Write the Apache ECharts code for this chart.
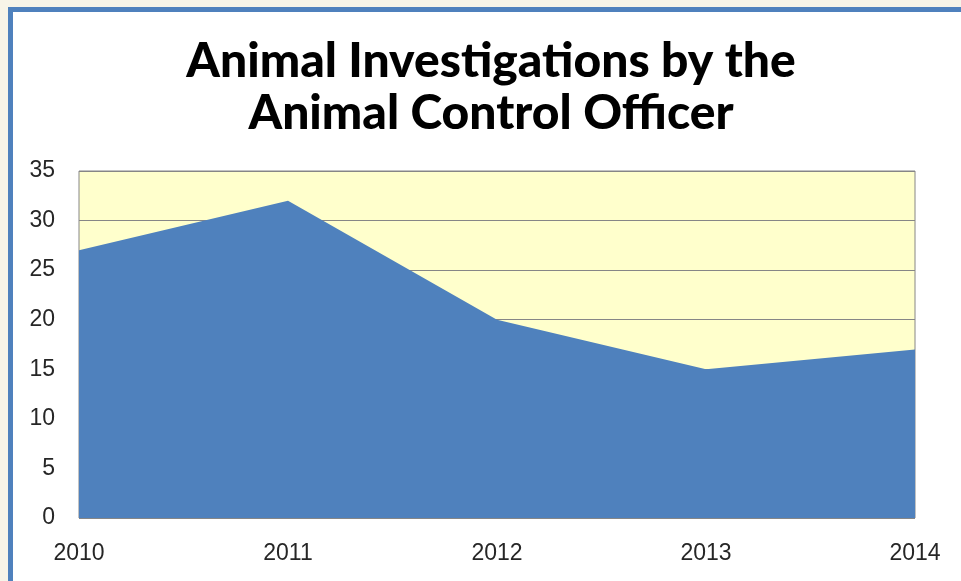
<!DOCTYPE html>
<html lang="en">
  <head>
    <meta charset="UTF-8" />
    <script src="https://cdn.jsdelivr.net/npm/echarts@6/dist/echarts.min.js"></script>
    <title>Animal Investigations</title>
    <style>
      html,
      body,
      #chart {
        width: 100%;
        height: 100%;
        margin: 0;
        padding: 0;
        overflow: hidden;
      }
    </style>
  </head>
  <body>
    <div id="chart"></div>
    <script>
      const years = ["2010", "2011", "2012", "2013", "2014"];
      const investigations = [27, 32, 20, 15, 17];

      const myChart = echarts.init(document.getElementById("chart"));
      const option = {
        backgroundColor: "#F7F4E8",
        animation: false,
        graphic: [
          {
            type: "rect",
            z: -10,
            shape: { x: 10.5, y: 9.5, width: 1000, height: 700 },
            style: { fill: "#fff", stroke: "#4F81BD", lineWidth: 5 },
          },
          {
            type: "text",
            x: 491,
            y: 36,
            style: {
              text: "Animal Investigations by the\nAnimal Control Officer",
              fill: "#000",
              font: "900 48px Lato",
              lineHeight: 52,
              align: "center",
            },
          },
        ],
        grid: {
          left: 79,
          top: 171,
          right: 46,
          bottom: 63,
          show: true,
          backgroundColor: "#FFFFCC",
          borderColor: "#868686",
          borderWidth: 1,
        },
        xAxis: {
          type: "category",
          data: years,
          boundaryGap: false,
          axisLine: { show: false },
          axisTick: { show: false },
          axisLabel: {
            margin: 24,
            fontSize: 23,
            fontFamily: "Liberation Sans",
            color: "#262626",
          },
        },
        yAxis: {
          type: "value",
          min: 0,
          max: 35,
          interval: 5,
          axisLine: { show: false },
          axisTick: { show: false },
          splitLine: { lineStyle: { color: "#868686", width: 1 } },
          axisLabel: {
            margin: 24,
            fontSize: 23,
            fontFamily: "Liberation Sans",
            color: "#262626",
          },
        },
        series: [
          {
            type: "line",
            data: investigations,
            symbol: "none",
            lineStyle: { width: 0 },
            areaStyle: { color: "#4F81BD", opacity: 1 },
          },
        ],
      };
      myChart.setOption(option);
    </script>
  </body>
</html>
